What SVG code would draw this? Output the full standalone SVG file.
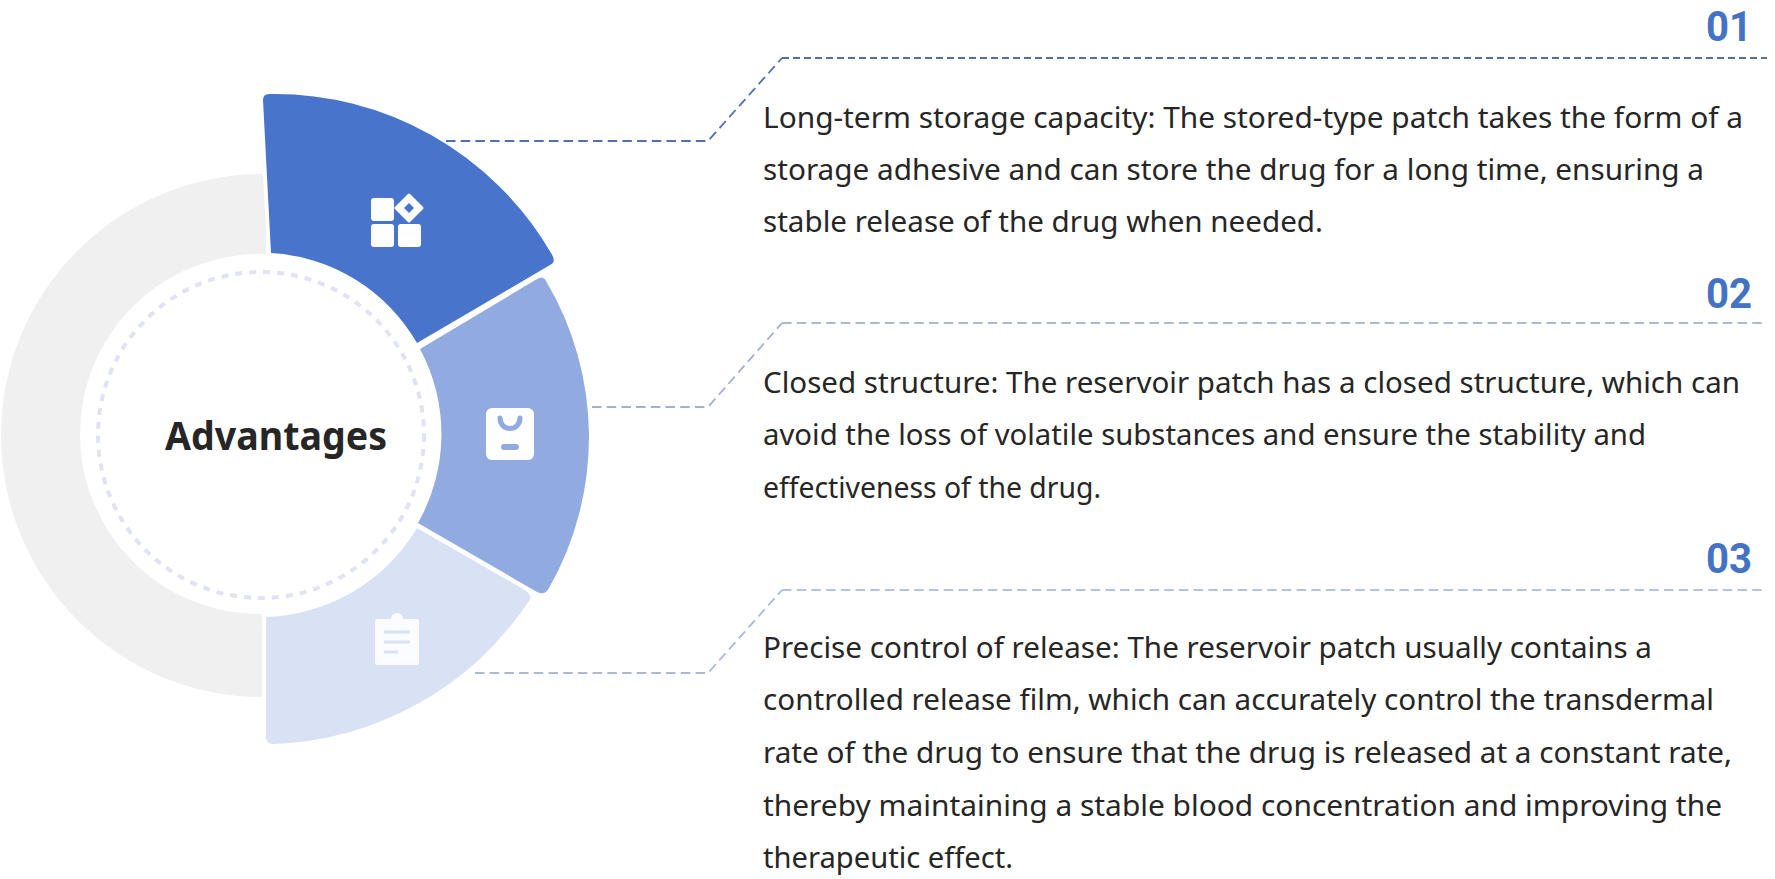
<svg xmlns="http://www.w3.org/2000/svg" width="1775" height="879" viewBox="0 0 1775 879">
<style>
.t{font-family:"Noto Sans","Open Sans","Liberation Sans",sans-serif;font-size:29.5px;fill:#262626}
.n{font-family:Roboto,"Noto Sans","Liberation Sans",sans-serif;font-size:42px;font-weight:700;fill:#4472c4}
.c{fill:none;stroke-width:1.8}
.d1{stroke-dasharray:9.5 5.2}
.d2{stroke-dasharray:7 4}
</style>
<rect width="1775" height="879" fill="#fff"/>
<g id="ring-base"><path d="M263,174A261.5,261.5 0 0 0 262,697L262,640L266,230Z" fill="#f0f0f0"/><circle cx="260" cy="434" r="180" fill="#fff"/></g>
<g id="segment-1"><path d="M263,100Q263,94 269,94A320,320 0 0 1 551,253Q557,262 550,265L417,343A180,180 0 0 0 271,253Z" fill="#4874cb"/>
<g fill="#fff"><rect x="371" y="198" width="23" height="23" rx="3"/><rect x="371" y="224" width="23" height="23" rx="3"/><rect x="398" y="224" width="23" height="23" rx="3"/><path d="M409,195L422,208L409,221L396,208Z" stroke="#fff" stroke-width="3" stroke-linejoin="round"/></g><path d="M409,203L414,208L409,213L404,208Z" fill="#4874cb"/></g>
<g id="segment-2"><path d="M420,349L537,279Q543,275 546,281A305,305 0 0 1 549,588Q545,596 537,592L418,523A180,180 0 0 0 420,349Z" fill="#91aae0"/>
<rect x="486" y="408" width="48" height="52" rx="6" fill="#fff"/><path d="M500,418C500,432 520,432 520,418" fill="none" stroke="#91aae0" stroke-width="5" stroke-linecap="round"/><rect x="501" y="444" width="18" height="6" rx="3" fill="#91aae0"/></g>
<g id="segment-3"><path d="M417,528L525,590Q533,596 529,601A320,320 0 0 1 273,744Q267,744 266,738L266,617A183,183 0 0 0 417,528Z" fill="#d9e2f5"/>
<path d="M377,619H391A6,6 0 0 1 403,619H417Q419,619 419,621V663Q419,665 417,665H377Q375,665 375,663V621Q375,619 377,619Z" fill="#fbfcff"/><path d="M384,632H410M384,642H410M384,652H398" stroke="#d9e2f5" stroke-width="3" fill="none"/></g>
<g id="center"><circle cx="261" cy="435" r="163" fill="none" stroke="#dfe3f3" stroke-width="4" stroke-dasharray="7 7"/>
<text x="165" y="450" font-family="'Noto Sans','Open Sans',sans-serif" font-size="38.5" font-weight="700" fill="#262626" textLength="222" lengthAdjust="spacingAndGlyphs">Advantages</text></g>
<g id="connectors">
<path class="c d1" stroke="#4f71b3" d="M446,141H708L782,58"/><path class="c d2" stroke="#5a6f96" d="M782,58H1767"/>
<path class="c d1" stroke="#a3aed2" d="M592,407H708L782,323"/><path class="c d1" stroke="#aeb9cc" d="M782,323H1767"/>
<path class="c d1" stroke="#a9b8dc" d="M475,673H708L782,590"/><path class="c d1" stroke="#b5c4de" d="M782,590H1767"/>
</g>
<g id="item-1"><text class="n" x="1706" y="41" textLength="46" lengthAdjust="spacingAndGlyphs">01</text>
<text class="t" x="763" y="128" textLength="980" lengthAdjust="spacingAndGlyphs">Long-term storage capacity: The stored-type patch takes the form of a</text>
<text class="t" x="763" y="180" textLength="941" lengthAdjust="spacingAndGlyphs">storage adhesive and can store the drug for a long time, ensuring a</text>
<text class="t" x="763" y="232" textLength="560" lengthAdjust="spacingAndGlyphs">stable release of the drug when needed.</text></g>
<g id="item-2"><text class="n" x="1706" y="308" textLength="46" lengthAdjust="spacingAndGlyphs">02</text>
<text class="t" x="763" y="393" textLength="977" lengthAdjust="spacingAndGlyphs">Closed structure: The reservoir patch has a closed structure, which can</text>
<text class="t" x="763" y="445" textLength="883" lengthAdjust="spacingAndGlyphs">avoid the loss of volatile substances and ensure the stability and</text>
<text class="t" x="763" y="498" textLength="338" lengthAdjust="spacingAndGlyphs">effectiveness of the drug.</text></g>
<g id="item-3"><text class="n" x="1706" y="573" textLength="46" lengthAdjust="spacingAndGlyphs">03</text>
<text class="t" x="763" y="658" textLength="889" lengthAdjust="spacingAndGlyphs">Precise control of release: The reservoir patch usually contains a</text>
<text class="t" x="763" y="710" textLength="951" lengthAdjust="spacingAndGlyphs">controlled release film, which can accurately control the transdermal</text>
<text class="t" x="763" y="763" textLength="969" lengthAdjust="spacingAndGlyphs">rate of the drug to ensure that the drug is released at a constant rate,</text>
<text class="t" x="763" y="816" textLength="959" lengthAdjust="spacingAndGlyphs">thereby maintaining a stable blood concentration and improving the</text>
<text class="t" x="763" y="868" textLength="250" lengthAdjust="spacingAndGlyphs">therapeutic effect.</text></g>
</svg>
